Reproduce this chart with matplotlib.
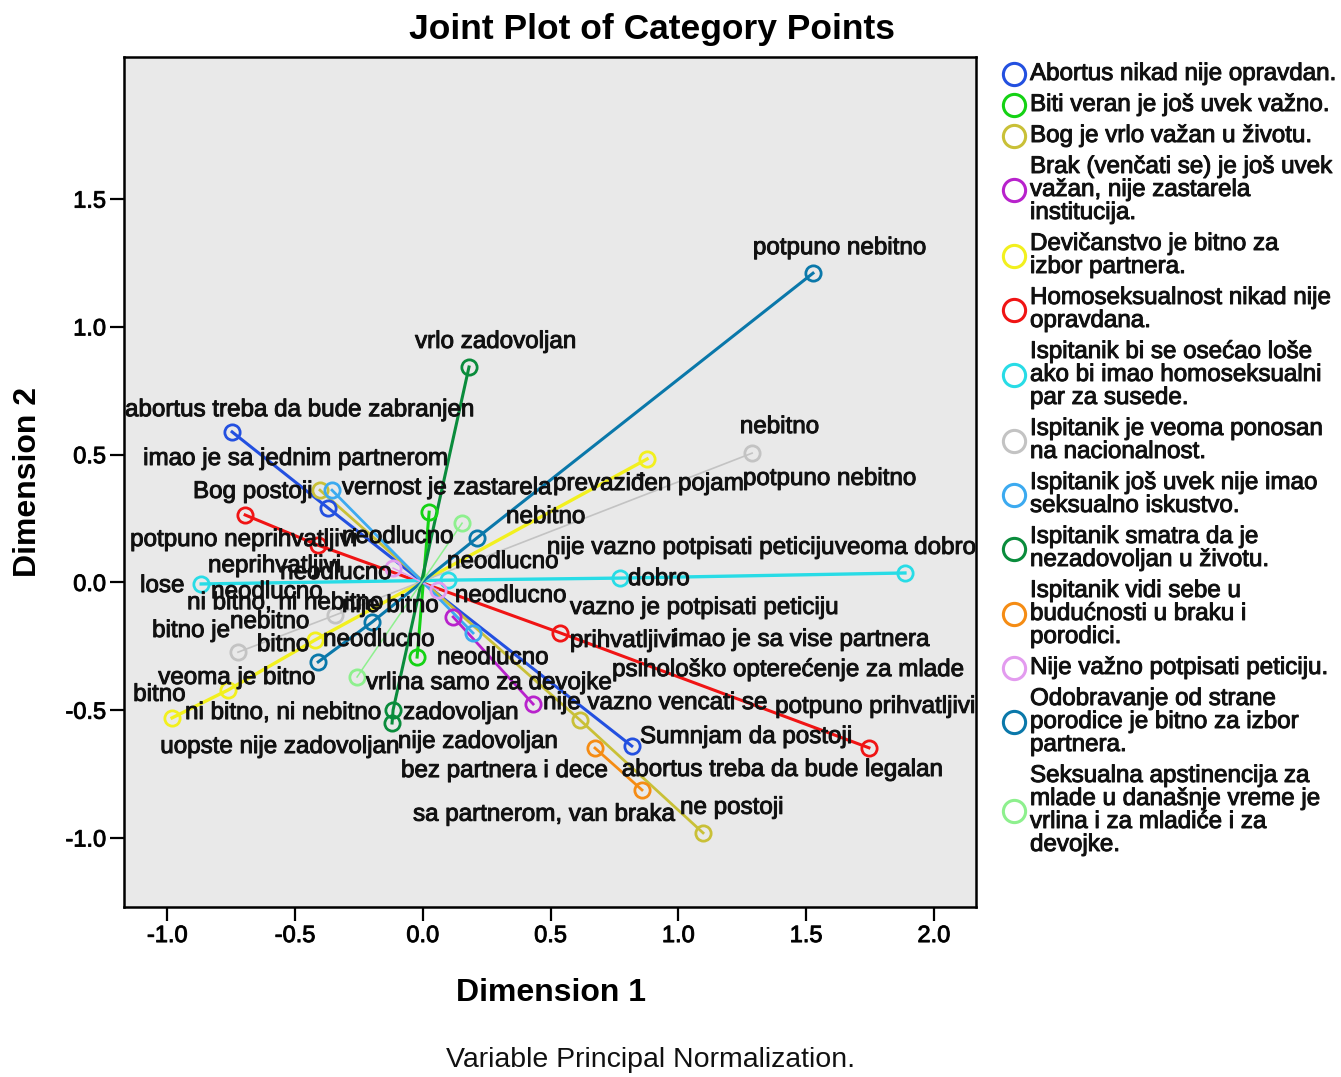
import matplotlib
matplotlib.use("Agg")
import matplotlib.pyplot as plt
from matplotlib.lines import Line2D
from matplotlib.patheffects import withStroke

plt.rcParams['font.family'] = ['Liberation Sans', 'DejaVu Sans']

# Variables (legend entries), one colour each
variables = [
    "Abortus nikad nije opravdan.",
    "Biti veran je još uvek važno.",
    "Bog je vrlo važan u životu.",
    "Brak (venčati se) je još uvek\nvažan, nije zastarela\ninstitucija.",
    "Devičanstvo je bitno za\nizbor partnera.",
    "Homoseksualnost nikad nije\nopravdana.",
    "Ispitanik bi se osećao loše\nako bi imao homoseksualni\npar za susede.",
    "Ispitanik je veoma ponosan\nna nacionalnost.",
    "Ispitanik još uvek nije imao\nseksualno iskustvo.",
    "Ispitanik smatra da je\nnezadovoljan u životu.",
    "Ispitanik vidi sebe u\nbudućnosti u braku i\nporodici.",
    "Nije važno potpisati peticiju.",
    "Odobravanje od strane\nporodice je bitno za izbor\npartnera.",
    "Seksualna apstinencija za\nmlade u današnje vreme je\nvrlina i za mladiće i za\ndevojke.",
]

# Category point coordinates per variable (in line order)
dim1 = [
    [-0.746, -0.370, 0.818],
    [0.025, -0.022],
    [-0.402, 0.615, 1.097],
    [0.119, 0.432],
    [0.878, -0.421, -0.762, -0.981],
    [-0.695, -0.410, 0.537, 1.746],
    [-0.867, 0.099, 0.772, 1.887],
    [1.289, -0.343, -0.723],
    [-0.355, 0.197],
    [0.181, -0.116, -0.120],
    [0.674, 0.858],
    [-0.116, 0.060],
    [1.527, 0.212, -0.198, -0.409],
    [0.154, -0.257],
]
dim2 = [
    [0.589, 0.291, -0.640],
    [0.275, -0.292],
    [0.361, -0.538, -0.980],
    [-0.135, -0.476],
    [0.483, -0.225, -0.421, -0.530],
    [0.264, 0.146, -0.197, -0.647],
    [-0.006, 0.009, 0.017, 0.037],
    [0.506, -0.128, -0.273],
    [0.361, -0.198],
    [0.843, -0.499, -0.550],
    [-0.648, -0.812],
    [0.056, -0.030],
    [1.210, 0.174, -0.155, -0.311],
    [0.232, -0.370],
]

# Category labels as printed on the plot
point_labels = [
    "potpuno nebitno", "vrlo zadovoljan", "abortus treba da bude zabranjen",
    "nebitno", "imao je sa jednim partnerom", "Bog postoji",
    "vernost je zastarela", "prevaziđen pojam", "potpuno nebitno", "nebitno",
    "neodlucno", "potpuno neprihvatljivi", "neodlucno",
    "nije vazno potpisati peticiju", "veoma dobro", "neprihvatljivi",
    "neodlucno", "lose", "neodlucno", "dobro", "ni bitno, ni nebitno",
    "nije bitno", "neodlucno", "vazno je potpisati peticiju", "bitno je",
    "nebitno", "bitno", "neodlucno", "prihvatljivi", "imao je sa vise partnera",
    "neodlucno", "veoma je bitno", "vrlina samo za devojke",
    "psihološko opterećenje za mlade", "bitno", "nije vazno vencati se",
    "potpuno prihvatljivi", "ni bitno, ni nebitno", "zadovoljan",
    "Sumnjam da postoji", "uopste nije zadovoljan", "nije zadovoljan",
    "bez partnera i dece", "abortus treba da bude legalan", "ne postoji",
    "sa partnerom, van braka",
]

# layout: left/centre anchor of each label, in data units
label_pos = [
    (1.292, 1.308), (-0.030, 0.941), (-1.165, 0.674), (1.241, 0.608),
    (-1.094, 0.483), (-0.899, 0.354), (-0.316, 0.369), (0.510, 0.385),
    (1.253, 0.405), (0.326, 0.256), (-0.316, 0.178), (-1.145, 0.166),
    (0.095, 0.080), (0.486, 0.135), (1.613, 0.135), (-0.840, 0.064),
    (-0.558, 0.037), (-1.106, -0.014), (-0.828, -0.038), (0.803, 0.013),
    (-0.922, -0.081), (-0.316, -0.092), (0.126, -0.053), (0.576, -0.100),
    (-1.059, -0.190), (-0.754, -0.155), (-0.649, -0.245), (-0.390, -0.225),
    (0.576, -0.229), (0.979, -0.225), (0.056, -0.296), (-1.035, -0.374),
    (-0.222, -0.394), (0.741, -0.343), (-1.133, -0.440), (0.471, -0.472),
    (1.379, -0.487), (-0.930, -0.511), (-0.077, -0.511), (0.850, -0.605),
    (-1.027, -0.644), (-0.097, -0.624), (-0.085, -0.738), (0.779, -0.734),
    (1.007, -0.882), (-0.038, -0.909),
]

colors = ['#2350e0', '#14d214', '#c9c037', '#b822cc', '#f2f01e', '#f01414',
          '#28dce6', '#c3c3c3', '#3caaf0', '#0a8c3c', '#f58c14', '#e39bef',
          '#0a78aa', '#8ef08e']
widths = [2.2, 2.2, 2.0, 2.0, 2.4, 2.2, 2.4, 1.2, 2.0, 2.2, 2.0, 1.1, 2.2, 1.1]

ink = '#111111'
heavy = [withStroke(linewidth=0.7, foreground=ink)]

W, H = 1341, 1077
fig = plt.figure(figsize=(W / 100, H / 100), dpi=100)
fig.patch.set_facecolor('white')
ax = fig.add_axes([124 / W, 1 - 907 / H, 852 / W, 850 / H])
ax.set_facecolor('#e9e9e9')

for xs, ys, c, lw in zip(dim1, dim2, colors, widths):
    ax.plot(xs, ys, '-', color=c, lw=lw, zorder=2)
    ax.plot(xs, ys, 'o', ms=11, mfc='none', mec=c, mew=2.0, zorder=3)

for txt, (lx, ly) in zip(point_labels, label_pos):
    ax.text(lx, ly, txt, ha='left', va='center', fontsize=17.4,
            color=ink, zorder=4, path_effects=heavy)

ax.set_xlim(-1.169, 2.165)
ax.set_ylim(-1.270, 2.056)
ax.set_xticks([-1.0, -0.5, 0.0, 0.5, 1.0, 1.5, 2.0])
ax.set_yticks([-1.0, -0.5, 0.0, 0.5, 1.0, 1.5])
ax.xaxis.set_major_formatter(matplotlib.ticker.FormatStrFormatter('%.1f'))
ax.yaxis.set_major_formatter(matplotlib.ticker.FormatStrFormatter('%.1f'))
ax.tick_params(direction='out', length=10, width=1.6, labelsize=17, pad=3)
for lab in ax.get_xticklabels() + ax.get_yticklabels():
    lab.set_path_effects(heavy)
for s in ax.spines.values():
    s.set_linewidth(1.8)

ax.set_xlabel("Dimension 1", fontsize=23, fontweight='bold')
ax.xaxis.set_label_coords((551 - 124) / 852, (907 - 993) / 850)
ax.xaxis.label.set_va('center')
ax.set_ylabel("Dimension 2", fontsize=23, fontweight='bold')
ax.yaxis.set_label_coords((28 - 124) / 852, 0.5)
ax.yaxis.label.set_va('center')

fig.text(652 / W, 1 - 30 / H, "Joint Plot of Category Points", ha='center',
         va='center', fontsize=25.5, fontweight='bold')
fig.text(651 / W, 1 - 1060 / H, "Variable Principal Normalization.",
         ha='center', va='center', fontsize=20.5, color=ink)

# legend, drawn line by line
line_h, gap = 23, 8
ypix = 74
for name, c in zip(variables, colors):
    lines = name.split('\n')
    yc = ypix + (len(lines) - 1) * line_h / 2
    fig.add_artist(Line2D([1014 / W], [1 - yc / H], marker='o', ms=16,
                          mfc='none', mec=c, mew=2.2,
                          transform=fig.transFigure))
    for k, ln in enumerate(lines):
        fig.text(1030 / W, 1 - (ypix + k * line_h) / H, ln, ha='left',
                 va='center', fontsize=17.4, color=ink, path_effects=heavy)
    ypix += len(lines) * line_h + gap

fig.savefig('out.png', dpi=100)
